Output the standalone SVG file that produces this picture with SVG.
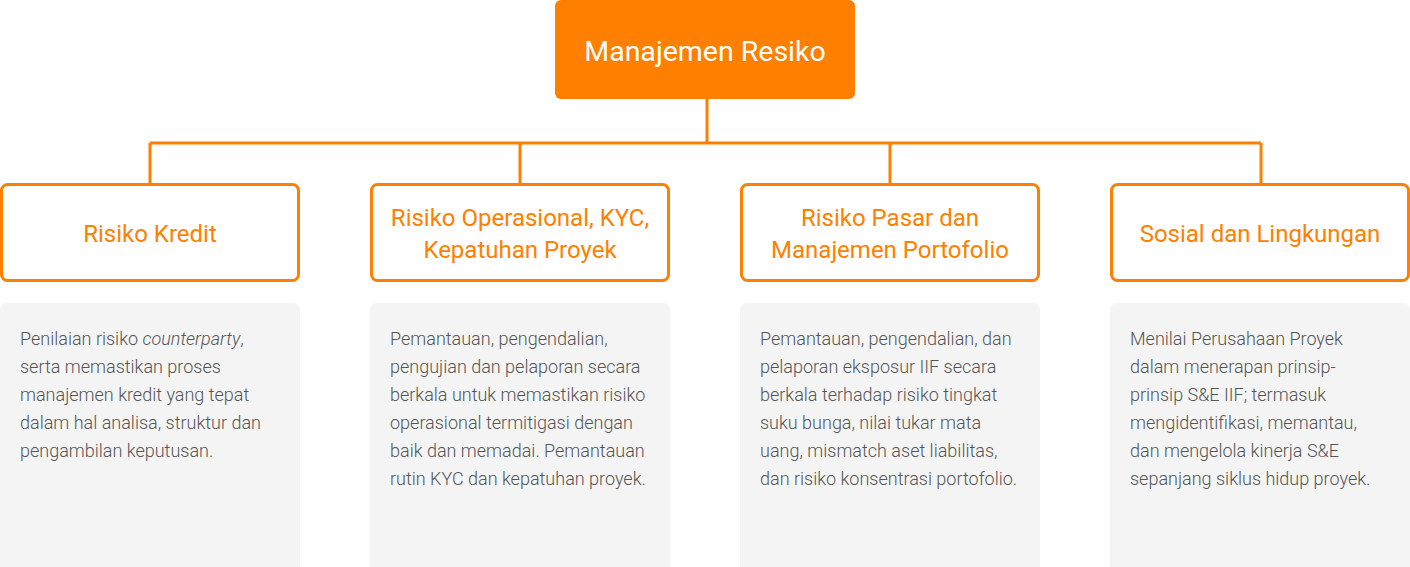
<svg xmlns="http://www.w3.org/2000/svg" width="1410" height="567" viewBox="0 0 1410 567">
<style>
.hdr{fill:#fff;stroke:#FF7F00;stroke-width:3}
.hdt{font-family:Roboto,"Liberation Sans",sans-serif;font-size:24px;fill:#FF7F00;text-anchor:middle}
.desc{fill:#f4f4f4}
.dt{font-family:Roboto,"Liberation Sans",sans-serif;font-weight:300;font-size:18px;fill:#555}
.con{fill:none;stroke:#FF7F00;stroke-width:3}
</style>
<rect width="1410" height="567" fill="#fff"/>
<g id="connectors">
<path class="con" d="M707 99V143M150 143H1261M150 143V184M520 143V184M890 143V184M1261 143V184"/>
</g>
<g id="root">
<rect x="555" y="0" width="300" height="99" rx="6" fill="#FF7F00"/>
<text x="705" y="61" font-family="Roboto,'Liberation Sans',sans-serif" font-size="28.5" fill="#fff" text-anchor="middle">Manajemen Resiko</text>
</g>
<g id="kredit">
<rect class="hdr" x="1.5" y="184.5" width="297" height="96" rx="6"/>
<text class="hdt" x="150" y="242">Risiko Kredit</text>
</g>
<g id="operasional">
<rect class="hdr" x="371.5" y="184.5" width="297" height="96" rx="6"/>
<text class="hdt" x="520" y="226">Risiko Operasional, KYC,</text>
<text class="hdt" x="520" y="258">Kepatuhan Proyek</text>
</g>
<g id="pasar">
<rect class="hdr" x="741.5" y="184.5" width="297" height="96" rx="6"/>
<text class="hdt" x="890" y="226">Risiko Pasar dan</text>
<text class="hdt" x="890" y="258">Manajemen Portofolio</text>
</g>
<g id="sosial">
<rect class="hdr" x="1111.5" y="184.5" width="297" height="96" rx="6"/>
<text class="hdt" x="1260" y="242">Sosial dan Lingkungan</text>
</g>
<g id="desc-kredit">
<rect class="desc" x="0" y="303" width="300" height="270" rx="7"/>
<text class="dt" x="20" y="345">Penilaian risiko <tspan font-style="italic">counterparty</tspan>,</text>
<text class="dt" x="20" y="373">serta memastikan proses</text>
<text class="dt" x="20" y="401">manajemen kredit yang tepat</text>
<text class="dt" x="20" y="429">dalam hal analisa, struktur dan</text>
<text class="dt" x="20" y="457">pengambilan keputusan.</text>
</g>
<g id="desc-operasional">
<rect class="desc" x="370" y="303" width="300" height="270" rx="7"/>
<text class="dt" x="390" y="345">Pemantauan, pengendalian,</text>
<text class="dt" x="390" y="373">pengujian dan pelaporan secara</text>
<text class="dt" x="390" y="401">berkala untuk memastikan risiko</text>
<text class="dt" x="390" y="429">operasional termitigasi dengan</text>
<text class="dt" x="390" y="457">baik dan memadai. Pemantauan</text>
<text class="dt" x="390" y="485">rutin KYC dan kepatuhan proyek.</text>
</g>
<g id="desc-pasar">
<rect class="desc" x="740" y="303" width="300" height="270" rx="7"/>
<text class="dt" x="760" y="345">Pemantauan, pengendalian, dan</text>
<text class="dt" x="760" y="373">pelaporan eksposur IIF secara</text>
<text class="dt" x="760" y="401">berkala terhadap risiko tingkat</text>
<text class="dt" x="760" y="429">suku bunga, nilai tukar mata</text>
<text class="dt" x="760" y="457">uang, mismatch aset liabilitas,</text>
<text class="dt" x="760" y="485">dan risiko konsentrasi portofolio.</text>
</g>
<g id="desc-sosial">
<rect class="desc" x="1110" y="303" width="300" height="270" rx="7"/>
<text class="dt" x="1130" y="345">Menilai Perusahaan Proyek</text>
<text class="dt" x="1130" y="373">dalam menerapan prinsip-</text>
<text class="dt" x="1130" y="401">prinsip S&amp;E IIF; termasuk</text>
<text class="dt" x="1130" y="429">mengidentifikasi, memantau,</text>
<text class="dt" x="1130" y="457">dan mengelola kinerja S&amp;E</text>
<text class="dt" x="1130" y="485">sepanjang siklus hidup proyek.</text>
</g>
</svg>
